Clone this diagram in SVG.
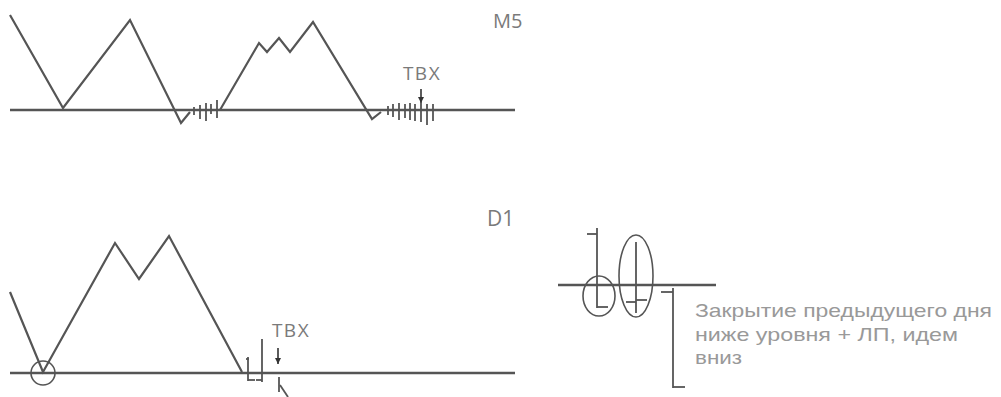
<svg xmlns="http://www.w3.org/2000/svg" width="1001" height="397" viewBox="0 0 1001 397">
<style>
.ln{fill:none;stroke:#555;stroke-width:2.2;stroke-linejoin:miter}
.base{fill:none;stroke:#555;stroke-width:2.5}
.tk{fill:none;stroke:#555;stroke-width:1.8}
.th{fill:none;stroke:#333;stroke-width:1.6}
.lbl{font-family:"Open Sans","Liberation Sans",sans-serif;fill:#7a7a7a}
.note{font-family:"Liberation Sans",Arial,sans-serif;fill:#999;font-size:19px}
</style>
<defs>
<marker id="ah" viewBox="0 0 10 10" refX="10" refY="5" markerWidth="6" markerHeight="6" orient="auto" markerUnits="userSpaceOnUse">
<path d="M0,0 L10,5 L0,10 Z" fill="#333"/>
</marker>
</defs>
<rect width="1001" height="397" fill="#fff"/>

<g id="chart-m5">
<line class="base" x1="10" y1="110" x2="515" y2="110"/>
<polyline class="ln" points="10,15 63,108 130,20 181,123 190,112"/>
<polyline class="ln" points="220,110 259,43 267,52 279,38 290,52 313,22 372,119 381,112"/>
<line class="tk" x1="194" y1="107" x2="194" y2="115"/>
<line class="tk" x1="200" y1="105" x2="200" y2="119"/>
<line class="tk" x1="206" y1="103" x2="206" y2="121"/>
<line class="tk" x1="211" y1="104" x2="211" y2="114"/>
<line class="tk" x1="217" y1="100" x2="217" y2="118"/>
<line class="tk" x1="388" y1="106" x2="388" y2="115"/>
<line class="tk" x1="393" y1="104" x2="393" y2="117"/>
<line class="tk" x1="399" y1="103" x2="399" y2="120"/>
<line class="tk" x1="405" y1="104" x2="405" y2="118"/>
<line class="tk" x1="410" y1="103" x2="410" y2="120"/>
<line class="tk" x1="415" y1="104" x2="415" y2="121"/>
<line class="tk" x1="421" y1="103" x2="421" y2="122"/>
<line class="tk" x1="427" y1="104" x2="427" y2="125"/>
<line class="tk" x1="433" y1="104" x2="433" y2="121"/>
<text class="lbl" x="422" y="80" font-size="19" letter-spacing="1.5" text-anchor="middle">TBX</text>
<line class="th" x1="421" y1="89" x2="421" y2="103" marker-end="url(#ah)"/>
<text class="lbl" x="493" y="28" font-size="20">M5</text>
</g>

<g id="chart-d1">
<line class="base" x1="10" y1="373" x2="515" y2="373"/>
<polyline class="ln" points="10,292 43,372 115,243 139,279 169,236 242,372"/>
<circle cx="43" cy="373" r="12" fill="none" stroke="#555" stroke-width="1.6"/>
<line class="tk" x1="248" y1="357" x2="248" y2="381"/>
<line class="tk" x1="246" y1="359" x2="249" y2="359"/>
<line class="tk" x1="248" y1="380" x2="255" y2="380"/>
<line class="tk" x1="262" y1="339" x2="262" y2="382"/>
<line class="tk" x1="256" y1="380" x2="262" y2="380"/>
<line class="tk" x1="279" y1="377" x2="279" y2="392"/>
<line class="tk" x1="280" y1="385" x2="288" y2="397"/>
<text class="lbl" x="291" y="337" font-size="19" letter-spacing="1.5" text-anchor="middle">TBX</text>
<line class="th" x1="278" y1="348" x2="278" y2="364" marker-end="url(#ah)"/>
<text class="lbl" x="487" y="226" font-size="21">D1</text>
</g>

<g id="candles">
<line class="base" x1="558" y1="285" x2="716" y2="285" stroke="#666" stroke-width="1.6"/>
<line class="tk" x1="597" y1="228" x2="597" y2="308"/>
<line class="tk" x1="587" y1="234" x2="597" y2="234"/>
<line class="tk" x1="597" y1="307" x2="608" y2="307"/>
<ellipse cx="599" cy="296" rx="16" ry="20" fill="none" stroke="#555" stroke-width="1.6"/>
<line class="tk" x1="636" y1="242" x2="636" y2="313"/>
<line class="tk" x1="626" y1="302" x2="636" y2="302"/>
<line class="tk" x1="636" y1="300" x2="647" y2="300"/>
<ellipse cx="636" cy="276" rx="17" ry="41" fill="none" stroke="#555" stroke-width="1.6"/>
<line class="tk" x1="661" y1="292" x2="673" y2="292"/>
<line class="tk" x1="673" y1="288" x2="673" y2="388"/>
<line class="tk" x1="673" y1="387" x2="685" y2="387"/>
</g>

<g id="note">
<text class="note" x="695" y="317" textLength="297" lengthAdjust="spacingAndGlyphs">Закрытие предыдущего дня</text>
<text class="note" x="695" y="341" textLength="263" lengthAdjust="spacingAndGlyphs">ниже уровня + ЛП, идем</text>
<text class="note" x="695" y="364" textLength="47" lengthAdjust="spacingAndGlyphs">вниз</text>
</g>
</svg>
